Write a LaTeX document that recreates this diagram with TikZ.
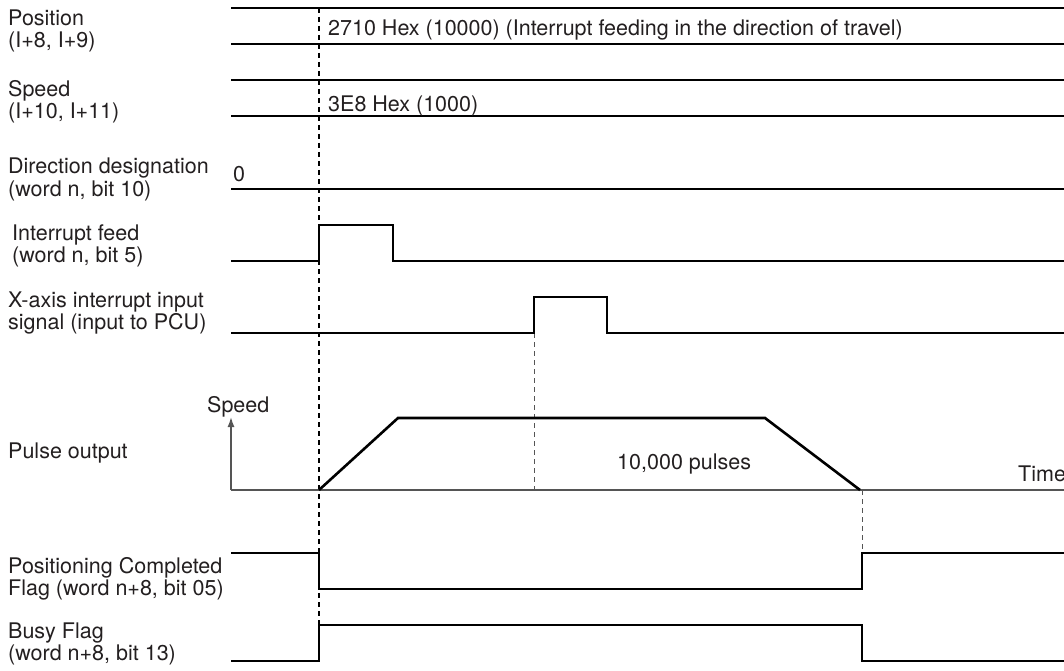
\documentclass[tikz,border=0pt]{standalone}
\usepackage{fontspec}
\setmainfont{TeX Gyre Heros}
\usetikzlibrary{arrows.meta}
\definecolor{txt}{RGB}{35,31,32}
\definecolor{axisgray}{RGB}{85,85,85}
\begin{document}
\begin{tikzpicture}[x=1pt,y=-1pt,
  lbl/.style={anchor=base west,inner sep=0pt,align=left,font=\fontsize{21.5}{22}\selectfont,text=txt},
  sig/.style={line width=2.6pt,line join=miter,line cap=butt},
  axisline/.style={line width=1.5pt,draw=axisgray},
  guide/.style={line width=1.1pt,dash pattern=on 5pt off 4pt},
  guidegray/.style={line width=0.8pt,draw=axisgray,dash pattern=on 5pt off 4pt}]
\useasboundingbox (0,0) rectangle (1064,671);

% left labels (base = baseline of the last line)
\node[lbl] (lpos) at (8,48) {Position\\(I+8, I+9)};
\node[lbl] (lspd) at (8,119) {Speed\\(I+10, I+11)};
\node[lbl] (ldir) at (8,196) {Direction designation\\(word n, bit 10)};
\node[lbl] (lint) at (12,262) {Interrupt feed\\(word n, bit 5)};
\node[lbl] (lx) at (8,329) {X-axis interrupt input\\signal (input to PCU)};
\node[lbl] (lpul) at (8,458) {Pulse output};
\node[lbl] (lpc) at (8,595) {Positioning Completed\\Flag (word n+8, bit 05)};
\node[lbl] (lbusy) at (8,660) {Busy Flag\\(word n+8, bit 13)};

% guide lines
\coordinate (g1top) at (319,8);
\coordinate (g1bot) at (319,625);
\draw[guide] (g1top) -- (g1bot);
\coordinate (g2top) at (534,333);
\coordinate (g2bot) at (534,490);
\draw[guidegray] (g2top) -- (g2bot);
\coordinate (g3top) at (862,490);
\coordinate (g3bot) at (862,553);
\draw[guidegray] (g3top) -- (g3bot);

% position / speed words
\draw[sig] (231,8) -- (1064,8);
\draw[sig] (231,44) -- (1064,44);
\draw[sig] (231,80) -- (1064,80);
\draw[sig] (231,116) -- (1064,116);
\node[lbl] (vpos) at (328,36) {2710 Hex (10000) (Interrupt feeding in the direction of travel)};
\node[lbl] (vspd) at (328,112) {3E8 Hex (1000)};

% direction designation
\draw[sig] (231,189) -- (1064,189);
\node[lbl] (vdir) at (233,182) {0};

% interrupt feed
\draw[sig] (231,261) -- (319,261) -- (319,225) -- (393,225) -- (393,261) -- (1064,261);

% x-axis interrupt input
\draw[sig] (231,333) -- (534,333) -- (534,297) -- (607,297) -- (607,333) -- (1064,333);

% pulse output
\coordinate (origin) at (231,490);
\coordinate (taxis) at (1064,490);
\coordinate (vaxis) at (231,417);
\draw[axisline] (origin) -- (taxis);
\draw[axisline,-{Latex[length=10pt,width=7pt]}] (origin) -- (vaxis);
\node[lbl] (lspeed) at (207,412) {Speed};
\node[lbl] (ltime) at (1018,481) {Time};
\draw[sig] (319,490) -- (398,418) -- (765,418) -- (860,490);
\node[lbl] (lpulses) at (617,469) {10,000 pulses};

% positioning completed flag
\draw[sig] (231,553) -- (319,553) -- (319,589) -- (862,589) -- (862,553) -- (1064,553);

% busy flag
\draw[sig] (231,661) -- (319,661) -- (319,625) -- (862,625) -- (862,661) -- (1064,661);
\end{tikzpicture}
\end{document}
